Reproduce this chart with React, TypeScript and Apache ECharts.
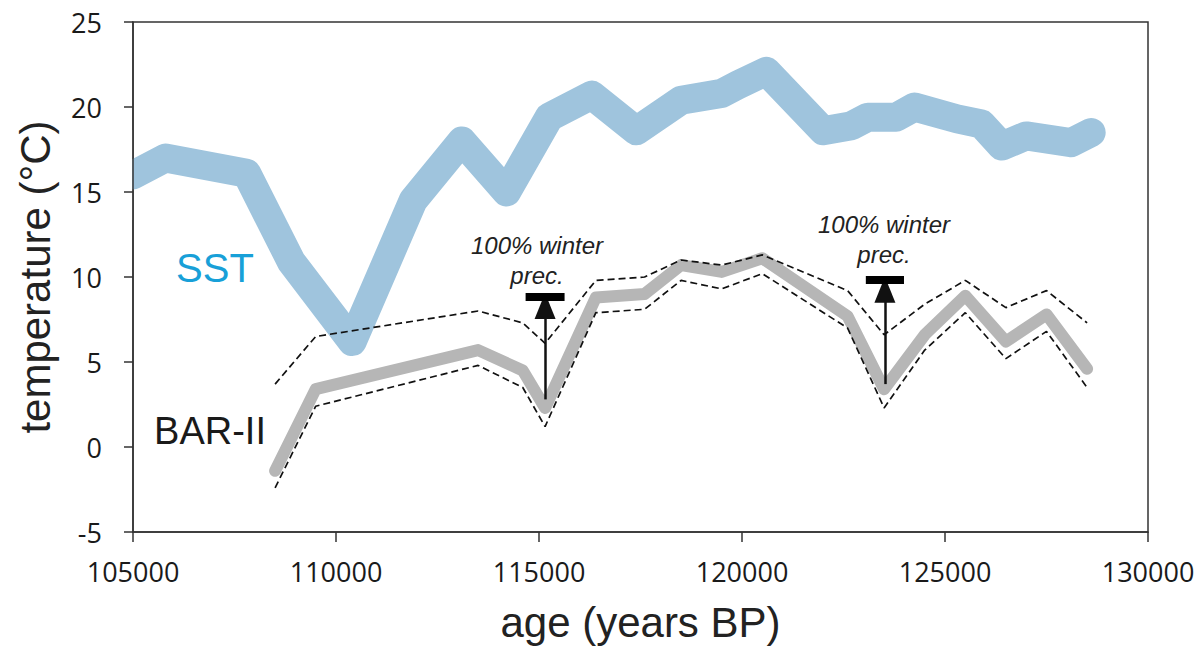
import React, { useEffect, useRef } from "react";
import * as echarts from "echarts";

// SST record
const sstAge = [105000, 105800, 107800, 108900, 110400, 111900, 113100, 114200, 115250, 116300, 117400, 118500, 119500, 119900, 120600, 122000, 122700, 123100, 123800, 124250, 125300, 125900, 126400, 127000, 128100, 128600];
const sstTemp = [16.0, 17.0, 16.1, 10.9, 6.2, 14.5, 18.0, 15.0, 19.4, 20.7, 18.6, 20.4, 20.8, 21.3, 22.1, 18.6, 18.9, 19.4, 19.4, 20.0, 19.3, 19.0, 17.7, 18.3, 17.9, 18.5];

// BAR-II record with uncertainty envelope
const barAge = [108500, 109500, 113500, 114600, 115150, 116400, 117600, 118500, 119500, 120500, 122600, 123500, 124500, 125500, 126500, 127500, 128500];
const barTemp = [-1.4, 3.4, 5.7, 4.5, 2.3, 8.8, 9.0, 10.7, 10.3, 11.1, 7.7, 3.4, 6.6, 8.9, 6.2, 7.8, 4.6];
const barUpper = [3.7, 6.5, 8.0, 7.3, 6.1, 9.8, 10.0, 11.0, 10.7, 11.3, 9.2, 6.6, 8.4, 9.8, 8.2, 9.2, 7.3];
const barLower = [-2.4, 2.4, 4.8, 3.5, 1.2, 7.9, 8.1, 9.8, 9.3, 10.2, 7.0, 2.3, 5.7, 7.9, 5.2, 6.8, 3.5];

// "100% winter prec." arrows
const precAge = [115150, 123520];
const precFrom = [2.8, 3.7];
const precTo = [8.3, 9.25];
const precCap = [8.85, 9.85];
const precCapHalf = [480, 470];
const precText = "100% winter\nprec.";

// axes
const xMin = 105000;
const xMax = 130000;
const xStep = 5000;
const yMin = -5;
const yMax = 25;
const yStep = 5;

const zip = (a: number[], b: number[]) => a.map((v, i) => [v, b[i]]);

export default function App() {
  const ref = useRef<HTMLDivElement>(null);
  useEffect(() => {
    if (!ref.current) return;
    const chart = echarts.init(ref.current, null, { renderer: "svg" });
    const tickFont = "Open Sans";
    const titleFont = "Liberation Sans";
    const dashed = { color: "#111", width: 1.7, type: [7, 4] as number[] };

    const arrowLines = precAge.map((a, i) => [
      { coord: [a, precFrom[i]], symbol: "none" },
      { coord: [a, precTo[i]], symbol: "triangle", symbolSize: [21, 26] },
    ]);
    const capLines = precAge.map((a, i) => [
      { coord: [a - precCapHalf[i], precCap[i]] },
      { coord: [a + precCapHalf[i], precCap[i]] },
    ]);

    const annot = (x: number, y: number) => ({
      type: "text",
      x,
      y,
      z: 20,
      style: {
        text: precText,
        font: 'italic 24px "Liberation Sans"',
        lineHeight: 30,
        fill: "#222",
        align: "center",
        verticalAlign: "middle",
      },
    });

    chart.setOption({
      animation: false,
      grid: {
        left: 133,
        top: 22,
        right: 56,
        bottom: 113,
        show: true,
        borderColor: "#333",
        borderWidth: 1.5,
        backgroundColor: "transparent",
      },
      xAxis: {
        type: "value",
        z: 10,
        min: xMin,
        max: xMax,
        interval: xStep,
        name: "age (years BP)",
        nameLocation: "middle",
        nameGap: 69,
        nameTextStyle: { fontFamily: titleFont, fontSize: 42, color: "#222" },
        axisLine: { onZero: false, lineStyle: { color: "#333", width: 1.5 } },
        axisTick: { show: true, inside: false, length: 10, lineStyle: { color: "#333", width: 1.5 } },
        axisLabel: {
          margin: 26,
          fontFamily: tickFont,
          fontSize: 27,
          color: "#1a1a1a",
          formatter: (v: number) => String(v),
        },
        splitLine: { show: false },
      },
      yAxis: {
        type: "value",
        z: 10,
        min: yMin,
        max: yMax,
        interval: yStep,
        name: "temperature (°C)",
        nameLocation: "middle",
        nameRotate: 90,
        nameGap: 77,
        nameTextStyle: { fontFamily: titleFont, fontSize: 42, color: "#222" },
        axisLine: { onZero: false, lineStyle: { color: "#333", width: 1.5 } },
        axisTick: { show: true, inside: false, length: 9, lineStyle: { color: "#333", width: 1.5 } },
        axisLabel: { margin: 31, fontFamily: tickFont, fontSize: 27, color: "#1a1a1a" },
        splitLine: { show: false },
      },
      series: [
        {
          name: "SST",
          type: "line",
          data: zip(sstAge, sstTemp),
          showSymbol: false,
          symbol: "none",
          lineStyle: { color: "#9fc4dd", width: 29, cap: "round", join: "round" },
          z: 1,
        },
        {
          name: "BAR-II",
          type: "line",
          data: zip(barAge, barTemp),
          showSymbol: false,
          symbol: "none",
          lineStyle: { color: "#b6b6b6", width: 12, cap: "round", join: "round" },
          z: 2,
        },
        {
          name: "BAR-II upper",
          type: "line",
          data: zip(barAge, barUpper),
          showSymbol: false,
          symbol: "none",
          lineStyle: dashed,
          z: 3,
        },
        {
          name: "BAR-II lower",
          type: "line",
          data: zip(barAge, barLower),
          showSymbol: false,
          symbol: "none",
          lineStyle: dashed,
          z: 3,
        },
        {
          name: "prec arrows",
          type: "line",
          data: [],
          z: 4,
          markLine: {
            silent: true,
            animation: false,
            label: { show: false },
            lineStyle: { color: "#111", width: 2.5, type: "solid" },
            itemStyle: { color: "#111" },
            data: arrowLines,
          },
        },
        {
          name: "prec caps",
          type: "line",
          data: [],
          z: 4,
          markLine: {
            silent: true,
            animation: false,
            symbol: ["none", "none"],
            label: { show: false },
            lineStyle: { color: "#000", width: 8, type: "solid", cap: "butt" },
            data: capLines,
          },
        },
      ],
      graphic: [
        // mask so the thick SST band is cut flush at the left axis
        {
          type: "rect",
          z: 5,
          shape: { x: 40, y: 130, width: 92.3, height: 90 },
          style: { fill: "#fff" },
          silent: true,
        },
        {
          type: "text",
          x: 215,
          y: 268,
          z: 20,
          style: { text: "SST", font: '40px "Liberation Sans"', fill: "#18a0d8", align: "center", verticalAlign: "middle" },
        },
        {
          type: "text",
          x: 210,
          y: 431,
          z: 20,
          style: { text: "BAR-II", font: '38px "Liberation Sans"', fill: "#1a1a1a", align: "center", verticalAlign: "middle" },
        },
        annot(537, 260),
        annot(884, 239),
      ],
    });
    return () => chart.dispose();
  }, []);
  return (
    <div
      ref={ref}
      style={{ position: "fixed", left: 0, top: 0, width: 1204, height: 648, background: "#fff" }}
    />
  );
}
